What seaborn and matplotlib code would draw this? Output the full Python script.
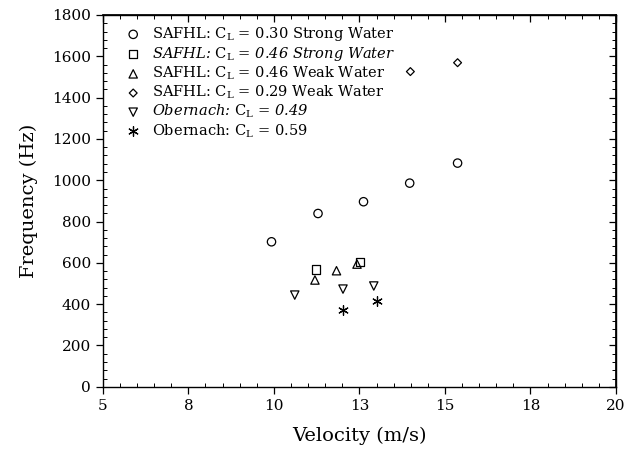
import matplotlib
matplotlib.use("Agg")
import matplotlib.pyplot as plt
import seaborn as sns
import pandas as pd
from matplotlib.ticker import MultipleLocator, FixedLocator, FixedFormatter

# ---- data ----
labels = [
    r"SAFHL: $\mathrm{C}_\mathrm{L}$ = 0.30 Strong Water",
    r"SAFHL: $\mathrm{C}_\mathrm{L}$ = 0.46 Strong Water",
    r"SAFHL: $\mathrm{C}_\mathrm{L}$ = 0.46 Weak Water",
    r"SAFHL: $\mathrm{C}_\mathrm{L}$ = 0.29 Weak Water",
    r"Obernach: $\mathrm{C}_\mathrm{L}$ = 0.49",
    r"Obernach: $\mathrm{C}_\mathrm{L}$ = 0.59",
]
italic_labels = [False, True, False, False, True, False]

x_030_strong = [9.93, 11.29, 12.62, 13.97, 15.37]
y_030_strong = [702, 839, 896, 986, 1083]
x_046_strong = [11.22, 12.51]
y_046_strong = [568, 604]
x_046_weak = [11.20, 11.83, 12.43]
y_046_weak = [517, 562, 594]
x_029_weak = [13.99, 15.37]
y_029_weak = [1526, 1569]
x_obern_049 = [10.61, 12.02, 12.92]
y_obern_049 = [444, 473, 488]
x_obern_059 = [12.01, 13.02]
y_obern_059 = [371, 415]

x_ticks = [5, 7.5, 10, 12.5, 15, 17.5, 20]
x_tick_labels = ["5", "8", "10", "13", "15", "18", "20"]
y_ticks = [0, 200, 400, 600, 800, 1000, 1200, 1400, 1600, 1800]

series_x = [x_030_strong, x_046_strong, x_046_weak, x_029_weak, x_obern_049, x_obern_059]
series_y = [y_030_strong, y_046_strong, y_046_weak, y_029_weak, y_obern_049, y_obern_059]

# ---- styling ----
sns.set_theme(style="white")
plt.rcParams["font.family"] = ["DejaVu Serif"]
plt.rcParams["mathtext.fontset"] = "dejavuserif"
plt.rcParams["text.color"] = "black"
plt.rcParams["axes.labelcolor"] = "black"
plt.rcParams["xtick.color"] = "black"
plt.rcParams["ytick.color"] = "black"

markers = ["o", "s", "^", "D", "v", (6, 2, 0)]
sizes = [36, 34, 36, 16, 36, 48]

fig = plt.figure(figsize=(6.35, 4.54), dpi=100)
ax = fig.add_axes([0.162, 0.148, 0.808, 0.819])

for xs, ys, lab, m, s in zip(series_x, series_y, labels, markers, sizes):
    df = pd.DataFrame({"x": xs, "y": ys})
    if isinstance(m, tuple):
        sns.scatterplot(data=df, x="x", y="y", marker=m, s=s, color="black",
                        linewidth=0.9, ax=ax, label=lab)
    else:
        sns.scatterplot(data=df, x="x", y="y", marker=m, s=s, facecolors="none",
                        edgecolor="black", linewidth=0.9, ax=ax, label=lab)

ax.set_xlim(5, 20)
ax.set_ylim(0, 1800)
ax.xaxis.set_major_locator(FixedLocator(x_ticks))
ax.xaxis.set_major_formatter(FixedFormatter(x_tick_labels))
ax.xaxis.set_minor_locator(MultipleLocator(0.5))
ax.yaxis.set_major_locator(FixedLocator(y_ticks))
ax.yaxis.set_minor_locator(MultipleLocator(40))

for sp in ax.spines.values():
    sp.set_color("black")
    sp.set_linewidth(1.0)

ax.tick_params(axis="both", which="major", direction="out", length=5, width=0.9,
               colors="black", labelsize=11, bottom=True, left=True)
ax.tick_params(axis="both", which="minor", direction="in", length=3, width=0.7,
               colors="black", bottom=True, left=True)

# top and right axes: inward ticks, no labels
secx = ax.secondary_xaxis("top")
secx.xaxis.set_major_locator(FixedLocator(x_ticks))
secx.xaxis.set_minor_locator(MultipleLocator(0.5))
secx.tick_params(which="major", direction="in", length=5, width=0.9, labeltop=False, colors="black")
secx.tick_params(which="minor", direction="in", length=3, width=0.7, colors="black")
secx.spines["top"].set_color("black")
secy = ax.secondary_yaxis("right")
secy.yaxis.set_major_locator(FixedLocator(y_ticks))
secy.yaxis.set_minor_locator(MultipleLocator(40))
secy.tick_params(which="major", direction="in", length=5, width=0.9, labelright=False, colors="black")
secy.tick_params(which="minor", direction="in", length=3, width=0.7, colors="black")
secy.spines["right"].set_color("black")

ax.set_xlabel("Velocity (m/s)", fontsize=14, labelpad=10)
ax.set_ylabel("Frequency (Hz)", fontsize=14, labelpad=10)

leg = ax.legend(loc="upper left", frameon=False, fontsize=10.5, handletextpad=0.8,
                labelspacing=0.12, borderaxespad=0.3, handlelength=1.0,
                bbox_to_anchor=(0.025, 1.0))
for t, it in zip(leg.get_texts(), italic_labels):
    t.set_color("black")
    if it:
        t.set_fontstyle("italic")

fig.savefig("out.png", dpi=100)
